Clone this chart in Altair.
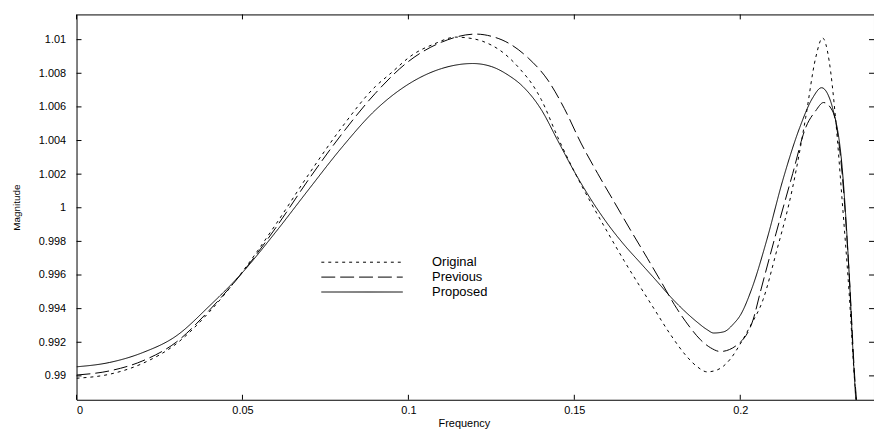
import altair as alt
import pandas as pd

# ---- data ----
orig_f = [0, 0.01, 0.02, 0.03, 0.04, 0.05, 0.06, 0.07, 0.08, 0.09, 0.0944, 0.1015, 0.1075, 0.1143, 0.118,
          0.1224, 0.1284, 0.1343, 0.1373, 0.14, 0.145, 0.15, 0.155, 0.16, 0.165, 0.17, 0.174, 0.179, 0.1839,
          0.187, 0.19, 0.193, 0.197, 0.2, 0.203, 0.2069, 0.2108, 0.2158, 0.2197, 0.2227, 0.2248, 0.2268, 0.2287,
          0.2307, 0.2328, 0.2345, 0.2352]
orig_v = [0.98986, 0.99010, 0.99075, 0.99190, 0.99380, 0.99620, 0.99900, 1.00200, 1.00480, 1.00720, 1.00795,
          1.00913, 1.00972, 1.01015, 1.01010, 1.00990, 1.00925, 1.00810, 1.00735, 1.00645, 1.00420, 1.00215,
          1.00030, 0.99855, 0.99685, 0.99525, 0.99400, 0.99245, 0.99115, 0.99055, 0.99024, 0.99035, 0.99100,
          0.99190, 0.99296, 0.99455, 0.99731, 1.00122, 1.00535, 1.00890, 1.01010, 1.00872, 1.00535, 1.00044,
          0.99495, 0.98963, 0.98800]

prev_f = [0, 0.01, 0.02, 0.03, 0.04, 0.05, 0.06, 0.07, 0.08, 0.09, 0.10, 0.11, 0.1203, 0.125, 0.1301, 0.1361,
          0.142, 0.147, 0.152, 0.157, 0.162, 0.167, 0.172, 0.176, 0.1809, 0.185, 0.188, 0.191, 0.194, 0.2,
          0.2039, 0.206, 0.2108, 0.2158, 0.2197, 0.2227, 0.2251, 0.2278, 0.2307, 0.2328, 0.2346, 0.2353]
prev_v = [0.99005, 0.99030, 0.99090, 0.99200, 0.99390, 0.99615, 0.99880, 1.00170, 1.00440, 1.00680, 1.00870,
          1.00985, 1.01033, 1.01020, 1.00980, 1.00891, 1.00760, 1.00590, 1.00385, 1.00205, 1.00035, 0.99865,
          0.99700, 0.99565, 0.99400, 0.99285, 0.99215, 0.99168, 0.99145, 0.99200, 0.99336, 0.99495, 0.99849,
          1.00203, 1.00476, 1.00576, 1.00626, 1.00576, 1.00203, 0.99614, 0.98963, 0.98800]

prop_f = [0, 0.01, 0.02, 0.03, 0.04, 0.05, 0.06, 0.07, 0.08, 0.09, 0.10, 0.11, 0.1194, 0.125, 0.13, 0.1343,
          0.14, 0.145, 0.15, 0.155, 0.16, 0.165, 0.17, 0.175, 0.179, 0.183, 0.187, 0.19, 0.192, 0.195, 0.198,
          0.2, 0.2035, 0.208, 0.2128, 0.2179, 0.2218, 0.2245, 0.2265, 0.2278, 0.2307, 0.2327, 0.2342, 0.2350]
prop_v = [0.99054, 0.99080, 0.99139, 0.99237, 0.99415, 0.99615, 0.99855, 1.00110, 1.00360, 1.00580, 1.00735,
          1.00828, 1.00858, 1.00840, 1.00790, 1.00725, 1.00585, 1.00400, 1.00215, 1.00050, 0.99905, 0.99780,
          0.99670, 0.99560, 0.99470, 0.99390, 0.99320, 0.99275, 0.99255, 0.99262, 0.99310, 0.99360, 0.99520,
          0.99809, 1.00163, 1.00476, 1.00653, 1.00714, 1.00670, 1.00595, 1.00240, 0.99649, 0.99058, 0.98800]

series_names = ["Original", "Previous", "Proposed"]
x_ticks = [0, 0.05, 0.1, 0.15, 0.2]
y_ticks = [0.99, 0.992, 0.994, 0.996, 0.998, 1.0, 1.002, 1.004, 1.006, 1.008, 1.01]

rows = []
for name, fs, vs in zip(series_names, [orig_f, prev_f, prop_f], [orig_v, prev_v, prop_v]):
    for f, v in zip(fs, vs):
        rows.append({"series": name, "f": f, "v": v})
df = pd.DataFrame(rows)
xt = pd.DataFrame({"t": x_ticks})
yt = pd.DataFrame({"t": y_ticks})

W, H = 803, 388
FONT = "Liberation Sans"
TK = 5

xscale = alt.Scale(domain=[0, 0.2403], nice=False, zero=False)
yscale = alt.Scale(domain=[0.98858, 1.0115], nice=False, zero=False)

xaxis = alt.Axis(
    values=x_ticks, labelExpr="format(datum.value, '~g')", labelOverlap=False, labelBound=False,
    ticks=False, tickSize=0, domain=False, grid=False, labelPadding=5,
    labelFont=FONT, labelFontSize=11, labelColor="black",
    titleFont=FONT, titleFontSize=11, titleFontWeight="normal", titleColor="black",
    titleX=390, titleY=24, titleBaseline="middle")
yaxis = alt.Axis(
    values=y_ticks, labelExpr="format(datum.value, '~g')", labelOverlap=False, labelBound=False,
    ticks=False, tickSize=0, domain=False, grid=False, labelPadding=11,
    labelFont=FONT, labelFontSize=11, labelColor="black",
    titleFont=FONT, titleFontSize=10, titleFontWeight="normal", titleColor="black",
    titleX=-60, titleY=194, titleBaseline="middle", titleAngle=-90)

lines = alt.Chart(df).mark_line(strokeWidth=1, color="black", clip=True, interpolate="monotone").encode(
    x=alt.X("f:Q", scale=xscale, axis=xaxis, title="Frequency"),
    y=alt.Y("v:Q", scale=yscale, axis=yaxis, title="Magnitude"),
    strokeDash=alt.StrokeDash("series:N", scale=alt.Scale(
        domain=series_names, range=[[3, 4], [14, 5], [1, 0]]),
        legend=alt.Legend(title=None, orient="none", legendX=246, legendY=242,
                          symbolType="stroke", symbolSize=6724, symbolStrokeWidth=1,
                          symbolStrokeColor="black", clipHeight=15, rowPadding=0,
                          labelFont=FONT, labelFontSize=13, labelColor="black",
                          labelOffset=29, padding=0)),
)

tick_bottom = alt.Chart(xt).mark_rule(color="black", strokeWidth=1).encode(
    x=alt.X("t:Q", scale=xscale, axis=xaxis, title="Frequency"), y=alt.value(H), y2=alt.value(H - TK))
tick_top = alt.Chart(xt).mark_rule(color="black", strokeWidth=1).encode(
    x=alt.X("t:Q", scale=xscale, axis=xaxis, title="Frequency"), y=alt.value(0), y2=alt.value(TK))
tick_left = alt.Chart(yt).mark_rule(color="black", strokeWidth=1).encode(
    y=alt.Y("t:Q", scale=yscale, axis=yaxis, title="Magnitude"), x=alt.value(0), x2=alt.value(TK))
tick_right = alt.Chart(yt).mark_rule(color="black", strokeWidth=1).encode(
    y=alt.Y("t:Q", scale=yscale, axis=yaxis, title="Magnitude"), x=alt.value(W), x2=alt.value(W - TK))

chart = alt.layer(lines, tick_bottom, tick_top, tick_left, tick_right).properties(
    width=W, height=H,
    autosize=alt.AutoSizeParams(type="none"),
    padding={"left": 69, "top": 5, "right": 0, "bottom": 32},
    background="white",
).configure_view(stroke="black", strokeWidth=1).configure_axis(labelOverlap=False)

chart.save("out.html", embed_options={"renderer": "svg", "actions": False})
